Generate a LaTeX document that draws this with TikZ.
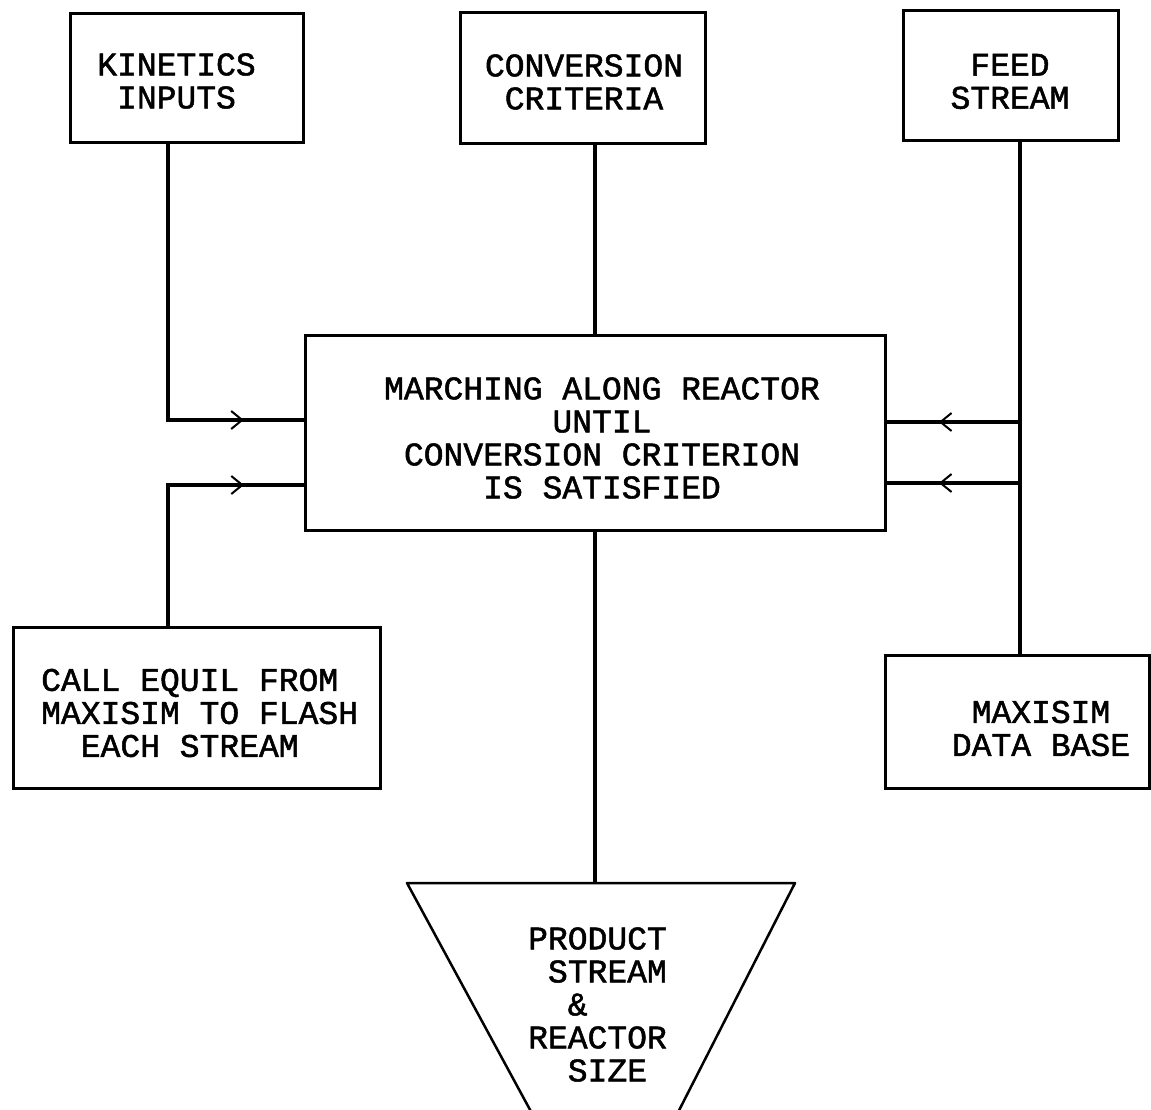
\documentclass[tikz,border=0pt]{standalone}
\usepackage{fontspec}
\newfontfamily\typer{Liberation Mono}[FakeBold=1.5]
\usetikzlibrary{arrows.meta,decorations.markings}
\begin{document}
\begin{tikzpicture}[x=1pt,y=-1pt,
  blockbox/.style={draw,line width=3pt,rectangle,inner sep=0pt},
  boxtext/.style={font=\typer\fontsize{33}{33}\selectfont,inner sep=0pt,align=center},
  conn/.style={line width=4.5pt},
  flowmark/.style={postaction={decorate,decoration={markings,
     mark=at position #1 with {\arrow[line width=2pt]{Straight Barb[length=11pt,width=18pt]}}}}}]
% sheet
\clip (0,0) rectangle (1151,1109);
\fill[white] (0,0) rectangle (1151,1109);

% blocks
\node[blockbox,minimum width=233pt,minimum height=129pt] (kin)  at (186.5,77.5) {};
\node[blockbox,minimum width=245pt,minimum height=131pt] (conv) at (582.5,77.5) {};
\node[blockbox,minimum width=215pt,minimum height=130pt] (feed) at (1010.5,75) {};
\node[blockbox,minimum width=580pt,minimum height=195pt] (mar)  at (595,432.5) {};
\node[blockbox,minimum width=367pt,minimum height=161pt] (call) at (196.5,707.5) {};
\node[blockbox,minimum width=264pt,minimum height=133pt] (db)   at (1017,721.5) {};

% block texts
\node[boxtext] (kin-t)  at (176.5,81) {KINETICS\\INPUTS};
\node[boxtext] (conv-t) at (584,82) {CONVERSION\\CRITERIA};
\node[boxtext] (feed-t) at (1010,81.5) {FEED\\STREAM};
\node[boxtext] (mar-t)  at (602,438) {MARCHING ALONG REACTOR\\UNTIL\\CONVERSION CRITERION\\IS SATISFIED};
\node[boxtext,align=left,anchor=west] (call-t) at (41,713)
  {CALL EQUIL FROM\\MAXISIM TO FLASH\\\phantom{EA}EACH STREAM};
\node[boxtext] (db-t)   at (1041,728.5) {MAXISIM\\DATA BASE};

% product funnel
\draw[line width=2.5pt,line join=round] (407,883) coordinate (pl) -- (795,883) coordinate (pr)
  -- (669,1130) -- (541,1130) -- cycle;
\coordinate (ptop) at (595,883);
\node[boxtext,align=left,anchor=west] (prod-t) at (528,1004.5)
  {PRODUCT\\\phantom{P}STREAM\\\phantom{PR}\&\\REACTOR\\\phantom{PR}SIZE};

% junction points
\coordinate (lx) at (168,0);
\coordinate (rx) at (1020,0);
\path (mar.west) ++(0,-12.5) coordinate (mwA) ++(0,65) coordinate (mwB);
\path (mar.east) ++(0,-10.5) coordinate (meA) ++(0,61) coordinate (meB);

% connectors
\draw[conn,flowmark=0.855] (kin.south -| lx) |- (mwA);
\draw[conn,flowmark=0.784] (call.north -| lx) |- (mwB);
\draw[conn] (conv.south -| mar.north) -- (mar.north);
\draw[conn] (feed.south -| rx) -- (db.north -| rx);
\draw[conn,flowmark=0.607] (meA -| rx) -- (meA);
\draw[conn,flowmark=0.607] (meB -| rx) -- (meB);
\draw[conn] (mar.south) -- (ptop);
\end{tikzpicture}
\end{document}
